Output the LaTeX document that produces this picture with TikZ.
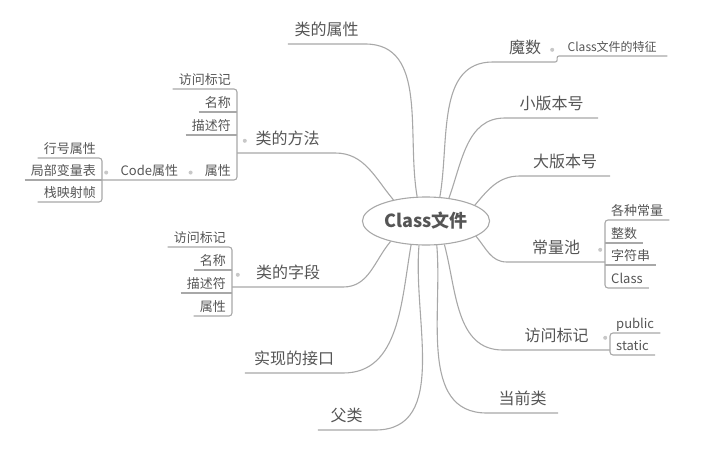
\documentclass[tikz,border=0pt]{standalone}
\usepackage{fontspec}
\setmainfont{Noto Sans CJK SC}
\usepackage{tikz}
\usetikzlibrary{positioning,calc,shapes.geometric}
\definecolor{ink}{HTML}{555555}
\definecolor{wire}{HTML}{A8A8A8}
\definecolor{knobc}{HTML}{C8C8C8}

\begin{document}
\begin{tikzpicture}[
    x=1pt, y=-1pt,
    root_node/.style={draw=wire, line width=1.1pt, ellipse, minimum width=120pt, minimum height=48pt, text=ink, font=\fontsize{18}{20}\selectfont\bfseries},
    main_label/.style={anchor=south, text=ink, font=\fontsize{16}{18}\selectfont, inner xsep=0pt, inner ysep=7pt, text height=0.85em, text depth=0.15em},
    sub_label/.style={text=ink, font=\fontsize{13}{15}\selectfont, inner xsep=6pt, inner ysep=2pt, text height=0.85em, text depth=0.2em},
    left_leaf/.style={sub_label, anchor=south east},
    right_leaf/.style={sub_label, anchor=south west},
    branch/.style={draw=wire, line width=1.1pt},
    knob/.style={fill=knobc}
]
\useasboundingbox (0,0) rectangle (727,458);

\node (root)  [root_node] at (426,221) {Class文件};

\node (attr)  [main_label, minimum width=77pt]  at (326.5,44) {类的属性};
\node (meth)  [main_label, minimum width=95pt]  at (287.5,153) {类的方法};
\node (fld)   [main_label, minimum width=110pt] at (288,287) {类的字段};
\node (iface) [main_label, minimum width=98pt]  at (294,373) {实现的接口};
\node (super) [main_label, minimum width=57pt]  at (346.5,430) {父类};

\node (magic) [main_label, minimum width=64pt]  at (525,62) {魔数};
\node (minor) [main_label, minimum width=93pt]  at (551.5,118) {小版本号};
\node (major) [main_label, minimum width=90pt]  at (565,176) {大版本号};
\node (pool)  [main_label, minimum width=98pt]  at (556,262) {常量池};
\node (acc)   [main_label, minimum width=107pt] at (556.5,350) {访问标记};
\node (cur)   [main_label, minimum width=71pt]  at (522.5,413) {当前类};

\node (m_acc)  [left_leaf] at (237,89)  {访问标记};
\node (m_name) [left_leaf] at (237,112) {名称};
\node (m_desc) [left_leaf] at (237,135) {描述符};
\node (m_attr) [left_leaf] at (237,180) {属性};
\node (code)   [left_leaf, minimum width=98pt] at (m_attr.south west) {Code属性};

\node (c_line)  [left_leaf] at (102,158) {行号属性};
\node (c_local) [left_leaf] at (102,180) {局部变量表};
\node (c_frame) [left_leaf] at (102,202) {栈映射帧};

\node (f_acc)  [left_leaf] at (232,247) {访问标记};
\node (f_name) [left_leaf] at (232,270) {名称};
\node (f_desc) [left_leaf] at (232,293) {描述符};
\node (f_attr) [left_leaf] at (232,316) {属性};

\node (p_all) [right_leaf] at (605,220) {各种常量};
\node (p_int) [right_leaf] at (605,243) {整数};
\node (p_str) [right_leaf] at (605,265) {字符串};
\node (p_cls) [right_leaf] at (605,288) {Class};

\node (a_pub) [right_leaf] at (610,333) {public};
\node (a_sta) [right_leaf] at (610,355) {static};

\node (feat) [right_leaf, font=\fontsize{12}{14}\selectfont, minimum width=110pt] at (557,56) {Class文件的特征};

\draw [branch] (root.110)  to[out=100, in=0]   (attr.south east) -- (attr.south west);
\draw [branch] (root.147)  to[out=130, in=0]   (meth.south east) -- (meth.south west -| m_acc.south east);
\draw [branch] (root.-150) to[out=-130, in=0]  (fld.south east) -- (fld.south west -| f_acc.south east);
\draw [branch] (root.-122) to[out=-100, in=0]  (iface.south east) -- (iface.south west);
\draw [branch] (root.-106) to[out=-95, in=0]   (super.south east) -- (super.south west);

\draw [branch] (root.60)   to[out=80, in=180]  (magic.south west);
\draw [branch] (root.45)   to[out=70, in=180]  (minor.south west) -- (minor.south east);
\draw [branch] (root.18)   to[out=50, in=180]  (major.south west) -- (major.south east);
\draw [branch] (root.-17)  to[out=-50, in=180] (pool.south west) -- (pool.south east);
\draw [branch] (root.-52)  to[out=-75, in=180] (acc.south west) -- (acc.south east);
\draw [branch] (root.-66)  to[out=-85, in=180] (cur.south west) -- (cur.south east);

\draw [branch, rounded corners=2pt] (magic.south west) -- (magic.south east) -- (feat.south west) -- (feat.south east);

\draw [branch, rounded corners=3pt] (m_acc.south west) -- (m_acc.south east) -- (m_attr.south east) -- (code.south west);
\draw [branch] (m_name.south west) -- (m_name.south east);
\draw [branch] (m_desc.south west) -- (m_desc.south east);

\draw [branch, rounded corners=3pt] (c_line.south west) -- (c_line.south east) -- (c_frame.south east) -- (c_frame.south west);
\draw [branch] (c_local.south west) -- (c_local.south east);

\draw [branch, rounded corners=3pt] (f_acc.south west) -- (f_acc.south east) -- (f_attr.south east) -- (f_attr.south west);
\draw [branch] (f_name.south west) -- (f_name.south east);
\draw [branch] (f_desc.south west) -- (f_desc.south east);

\draw [branch, rounded corners=3pt] (p_all.south east) -- (p_all.south west) -- (p_cls.south west) -- (p_cls.south east);
\draw [branch] (p_int.south west) -- (p_int.south east);
\draw [branch] (p_str.south west) -- (p_str.south east);

\draw [branch, rounded corners=3pt] (a_pub.south east) -- (a_pub.south west) -- (a_sta.south west) -- (a_sta.south east);

\fill [knob] ([xshift=-5pt]magic.east) circle (2pt);
\fill [knob] ([xshift=5pt]meth.west)   circle (2pt);
\fill [knob] ([xshift=5pt]fld.west)    circle (2pt);
\fill [knob] ([xshift=-5pt]pool.east)  circle (2pt);
\fill [knob] ([xshift=-5pt]acc.east)   circle (2pt);
\fill [knob] ([xshift=-8pt]m_attr.west) circle (2pt);
\fill [knob] ([xshift=6pt]code.west)   circle (2pt);

\end{tikzpicture}
\end{document}
